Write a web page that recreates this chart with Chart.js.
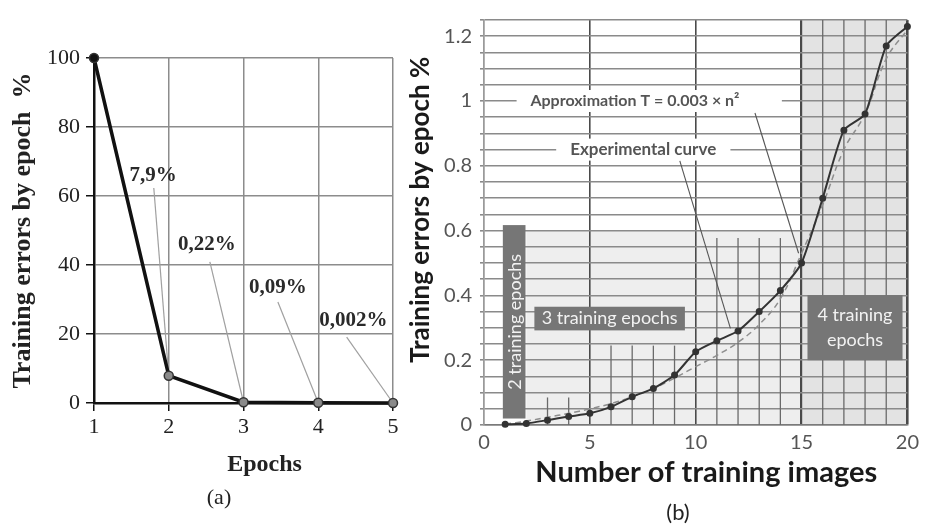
<!DOCTYPE html>
<html><head><meta charset="utf-8">
<script src="https://cdn.jsdelivr.net/npm/chart.js@4.4.1/dist/chart.umd.min.js"></script>
<style>
html,body{margin:0;padding:0;background:#fff;}
#wrap{position:relative;width:925px;height:525px;overflow:hidden;background:#fff;}
#ca{position:absolute;left:0;top:0;}
#cb{position:absolute;left:400px;top:0;}
</style></head><body>
<div id="wrap"><canvas id="ca" width="438" height="525"></canvas><canvas id="cb" width="525" height="525"></canvas></div>
<script>
// ---------- data: chart (a) ----------
const epochs = [1, 2, 3, 4, 5];
const epochErrors = [100, 7.9, 0.22, 0.09, 0.002];
const epochValueLabels = ['7,9%', '0,22%', '0,09%', '0,002%'];
const epochXTickLabels = ['1', '2', '3', '4', '5'];
const epochYTickLabels = ['0', '20', '40', '60', '80', '100'];

// ---------- data: chart (b) ----------
const imageCounts = [1, 2, 3, 4, 5, 6, 7, 8, 9, 10, 11, 12, 13, 14, 15, 16, 17, 18, 19, 20];
const experimentalCurve = [0.002, 0.005, 0.015, 0.026, 0.036, 0.056, 0.087, 0.113, 0.154, 0.226, 0.26, 0.29, 0.35, 0.415, 0.50, 0.70, 0.91, 0.96, 1.17, 1.23];
const approximationCurve = [0.003, 0.012, 0.024, 0.036, 0.05, 0.066, 0.087, 0.112, 0.145, 0.18, 0.215, 0.255, 0.31, 0.39, 0.53, 0.68, 0.85, 0.96, 1.13, 1.22];
const imagesXTickLabels = ['0', '5', '10', '15', '20'];
const imagesYTickLabels = ['0', '0.2', '0.4', '0.6', '0.8', '1', '1.2'];
const minorGridX = [3, 4, 6, 7, 8, 9, 11, 12, 13, 14, 16, 17, 18, 19];
const minorGridTop = [0.085, 0.085, 0.245, 0.245, 0.245, 0.245, 0.577, 0.577, 0.577, 0.577, 1.25, 1.25, 1.25, 1.25];

function lookupLabel(list, v) {
  for (const l of list) { if (Math.abs(parseFloat(l) - v) < 1e-6) return l; }
  return '';
}

// ---------- chart (a) annotations ----------
const annotA = {
  id: 'annotA',
  beforeDatasetsDraw(chart, args, opts) {
    const {ctx, scales: {x, y}} = chart;
    ctx.save();
    opts.items.forEach((it, i) => {
      const target = i + 1;
      ctx.strokeStyle = '#a0a0a0';
      ctx.lineWidth = 1.2;
      ctx.beginPath();
      ctx.moveTo(x.getPixelForValue(it.from[0]), y.getPixelForValue(it.from[1]));
      ctx.lineTo(x.getPixelForValue(epochs[target]), y.getPixelForValue(epochErrors[target]));
      ctx.stroke();
      ctx.fillStyle = '#2a2a2a';
      ctx.font = 'bold 21px "Liberation Serif"';
      ctx.textAlign = 'center';
      ctx.textBaseline = 'middle';
      ctx.fillText(epochValueLabels[i], x.getPixelForValue(it.at[0]), y.getPixelForValue(it.at[1]));
    });
    ctx.restore();
  },
  afterDraw(chart, args, opts) {
    const {ctx} = chart;
    ctx.save();
    ctx.fillStyle = '#222';
    ctx.font = '22px "Liberation Serif"';
    ctx.textAlign = 'center';
    ctx.textBaseline = 'middle';
    ctx.fillText(opts.caption, opts.captionX, opts.captionY);
    ctx.restore();
  }
};

new Chart(document.getElementById('ca'), {
  type: 'line',
  data: {
    datasets: [{
      data: epochs.map((e, i) => ({x: e, y: epochErrors[i]})),
      borderColor: '#111',
      borderWidth: 3.5,
      tension: 0,
      clip: false,
      pointRadius: 4.5,
      pointBackgroundColor: epochs.map((e, i) => i === 0 ? '#111' : '#8a8a8a'),
      pointBorderColor: '#333',
      pointBorderWidth: 1.5
    }]
  },
  options: {
    responsive: false,
    animation: false,
    layout: {padding: {top: 58, right: 45, left: 0, bottom: 0}},
    plugins: {
      legend: {display: false},
      tooltip: {enabled: false},
      annotA: {
        items: [
          {at: [1.79, 66], from: [1.80, 62.3]},
          {at: [2.51, 45.8], from: [2.55, 40.9]},
          {at: [3.46, 33.6], from: [3.46, 29.3]},
          {at: [4.47, 24], from: [4.38, 19.1]}
        ],
        caption: '(a)', captionX: 219, captionY: 498
      }
    },
    scales: {
      x: {
        type: 'linear', min: 1, max: 5,
        ticks: {stepSize: 1, color: '#222', font: {family: 'Liberation Serif', size: 22}, padding: 3,
                callback: v => lookupLabel(epochXTickLabels, v)},
        grid: {color: '#8c8c8c', lineWidth: 1.5, tickLength: 8, tickColor: '#111'},
        border: {color: '#111', width: 2.5},
        title: {display: true, text: '       Epochs', color: '#222',
                font: {family: 'Liberation Serif', size: 24, weight: 'bold'}, padding: {top: 0, bottom: 45.6}},
        afterFit(s) { s.height = 122; }
      },
      y: {
        min: 0, max: 100,
        ticks: {stepSize: 20, color: '#222', font: {family: 'Liberation Serif', size: 22}, padding: 6,
                callback: v => lookupLabel(epochYTickLabels, v)},
        grid: {color: '#8c8c8c', lineWidth: 1.5, tickLength: 8, tickColor: '#111'},
        border: {color: '#111', width: 2.5},
        title: {display: true, text: 'Training errors by epoch  %', color: '#222',
                font: {family: 'Liberation Serif', size: 26, weight: 'bold'}, padding: {top: 7.5, bottom: 0}},
        afterFit(s) { s.width = 94; }
      }
    }
  },
  plugins: [annotA]
});

// ---------- chart (b) decorations ----------
const decorB = {
  id: 'decorB',
  beforeDraw(chart, args, opts) {
    const {ctx, scales: {x, y}} = chart;
    ctx.save();
    opts.shades.forEach(s => {
      ctx.fillStyle = s.color;
      const px0 = x.getPixelForValue(s.x0), px1 = x.getPixelForValue(s.x1);
      const py0 = y.getPixelForValue(s.y1), py1 = y.getPixelForValue(s.y0);
      ctx.fillRect(px0, py0, px1 - px0, py1 - py0);
    });
    ctx.restore();
  },
  beforeDatasetsDraw(chart, args, opts) {
    const {ctx, scales: {x, y}} = chart;
    ctx.save();
    // partial minor vertical grid lines
    ctx.strokeStyle = '#6a6a6a';
    ctx.lineWidth = 1.3;
    minorGridX.forEach((gx, i) => {
      const px = x.getPixelForValue(gx);
      ctx.beginPath();
      ctx.moveTo(px, y.getPixelForValue(0));
      ctx.lineTo(px, y.getPixelForValue(minorGridTop[i]));
      ctx.stroke();
    });
    // callouts with white background
    opts.callouts.forEach(c => {
      const cy = y.getPixelForValue(c.y);
      const bx0 = x.getPixelForValue(c.bg[0]), bx1 = x.getPixelForValue(c.bg[1]);
      ctx.fillStyle = '#fff';
      ctx.fillRect(bx0, cy - 11, bx1 - bx0, 22);
      ctx.fillStyle = '#555';
      ctx.font = 'bold ' + c.size + 'px Lato';
      ctx.textAlign = 'center';
      ctx.textBaseline = 'middle';
      ctx.fillText(c.text, x.getPixelForValue(c.tx), cy);
      ctx.strokeStyle = '#555';
      ctx.lineWidth = 1.1;
      ctx.beginPath();
      ctx.moveTo(x.getPixelForValue(c.from[0]), y.getPixelForValue(c.from[1]));
      ctx.lineTo(x.getPixelForValue(c.to[0]), y.getPixelForValue(c.to[1]));
      ctx.stroke();
    });
    // epoch boxes
    opts.boxes.forEach(b => {
      const px0 = x.getPixelForValue(b.x0), px1 = x.getPixelForValue(b.x1);
      const py0 = y.getPixelForValue(b.y1), py1 = y.getPixelForValue(b.y0);
      ctx.fillStyle = '#767676';
      ctx.fillRect(px0, py0, px1 - px0, py1 - py0);
      ctx.fillStyle = '#f2f2f2';
      ctx.font = '18px Lato';
      ctx.textAlign = 'center';
      ctx.textBaseline = 'middle';
      const cx = (px0 + px1) / 2, cy = (py0 + py1) / 2;
      if (b.vertical) {
        ctx.save();
        ctx.translate(cx + 1, cy);
        ctx.rotate(-Math.PI / 2);
        ctx.fillText(b.text[0], 0, 0);
        ctx.restore();
      } else {
        const lh = 25;
        b.text.forEach((t, i) => {
          ctx.fillText(t, cx, cy + (i - (b.text.length - 1) / 2) * lh);
        });
      }
    });
    ctx.restore();
  },
  afterDraw(chart, args, opts) {
    const {ctx} = chart;
    ctx.save();
    ctx.fillStyle = '#222';
    ctx.font = '22px Lato';
    ctx.textAlign = 'center';
    ctx.textBaseline = 'middle';
    ctx.fillText(opts.caption, opts.captionX, opts.captionY);
    ctx.restore();
  }
};

const majorColor = v => v === 0 ? '#9a9a9a' : '#4a4a4a';
const majorWidth = v => v === 0 ? 1.5 : (v >= 20 ? 2.6 : (v >= 15 ? 2.2 : 1.6));

new Chart(document.getElementById('cb'), {
  type: 'line',
  data: {
    datasets: [
      {
        label: 'Experimental curve',
        data: imageCounts.map((n, i) => ({x: n, y: experimentalCurve[i]})),
        borderColor: '#333',
        borderWidth: 2,
        tension: 0.2,
        pointRadius: 2.5,
        pointBackgroundColor: '#333',
        pointBorderColor: '#333',
        clip: false
      },
      {
        label: 'Approximation',
        data: imageCounts.map((n, i) => ({x: n, y: approximationCurve[i]})),
        borderColor: '#8e8e8e',
        borderWidth: 1.5,
        borderDash: [6, 4],
        tension: 0.4,
        pointRadius: 0,
        clip: false
      }
    ]
  },
  options: {
    responsive: false,
    animation: false,
    layout: {padding: {top: 13.5, right: 13, left: 0, bottom: 0}},
    plugins: {
      legend: {display: false},
      tooltip: {enabled: false},
      decorB: {
        shades: [
          {x0: 2, x1: 15, y0: 0, y1: 0.6, color: '#eeeeee'},
          {x0: 15, x1: 20, y0: 0, y1: 1.25, color: '#e3e3e3'}
        ],
        callouts: [
          {text: 'Approximation T = 0.003 × n²', size: 16, bg: [1.54, 14.07], tx: 7.13, y: 1.0, from: [12.8, 0.963], to: [14.86, 0.53]},
          {text: 'Experimental curve', size: 17, bg: [3.41, 11.64], tx: 7.52, y: 0.85, from: [9.25, 0.815], to: [11.64, 0.298]}
        ],
        boxes: [
          {text: ['2 training epochs'], x0: 0.89, x1: 1.96, y0: 0.02, y1: 0.617, vertical: true},
          {text: ['3 training epochs'], x0: 2.38, x1: 9.49, y0: 0.292, y1: 0.365},
          {text: ['4 training', 'epochs'], x0: 15.28, x1: 19.77, y0: 0.2, y1: 0.401}
        ],
        caption: '(b)', captionX: 278, captionY: 513
      }
    },
    scales: {
      x: {
        type: 'linear', min: 0, max: 20,
        ticks: {stepSize: 5, color: '#555', font: {family: 'Lato', size: 20}, padding: 6,
                callback: v => lookupLabel(imagesXTickLabels, v)},
        grid: {drawTicks: false, color: c => majorColor(c.tick ? c.tick.value : 0), lineWidth: c => majorWidth(c.tick ? c.tick.value : 0)},
        border: {color: '#7a7a7a', width: 1.6},
        title: {display: true, text: '   Number of training images', color: '#1a1a1a',
                font: {family: 'Lato', size: 29, weight: 'bold'}, padding: {top: 0, bottom: 34.6}},
        afterFit(s) { s.height = 100; }
      },
      y: {
        min: 0, max: 1.25,
        ticks: {stepSize: 0.05, autoSkip: false, color: '#555', font: {family: 'Lato', size: 20}, padding: 8,
                callback: v => lookupLabel(imagesYTickLabels, v)},
        grid: {color: '#8a8a8a', lineWidth: 1.6, tickLength: 4, tickColor: '#8a8a8a'},
        border: {color: '#9a9a9a', width: 1.5},
        title: {display: true, text: '    Training errors by epoch %', color: '#1a1a1a',
                font: {family: 'Lato', size: 26, weight: 'bold'}, padding: {top: 5.4, bottom: 0}},
        afterFit(s) { s.width = 84; }
      }
    }
  },
  plugins: [decorB]
});
</script>
</body></html>
